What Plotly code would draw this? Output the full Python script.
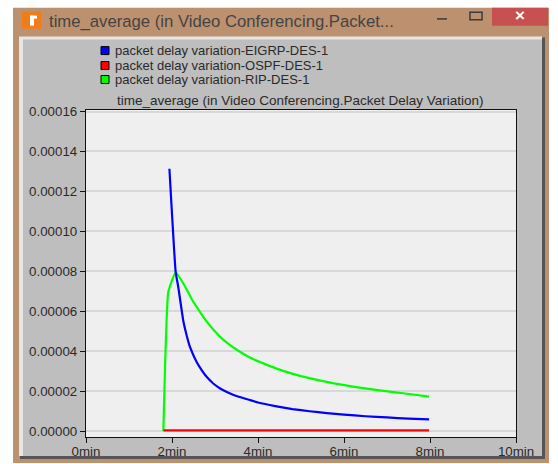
import plotly.graph_objects as go

WIN_TITLE = "time_average (in Video Conferencing.Packet..."
PLOT_TITLE = "time_average (in Video Conferencing.Packet Delay Variation)"
eigrp_t = [1.94, 2.085, 2.147, 2.26, 2.34, 2.42, 2.57, 2.69, 2.81, 2.96, 3.12, 3.3, 3.5, 3.81, 4.0, 4.4, 4.8, 5.2, 5.6, 6.0, 6.5, 7.0, 7.5, 7.98]
eigrp_v = [0.0001313, 0.0000796, 0.000072, 0.0000555, 0.000048, 0.000042, 0.0000347, 0.0000305, 0.000027, 0.0000238, 0.0000213, 0.0000193, 0.0000175, 0.0000155, 0.0000143, 0.0000125, 0.000011, 0.0000099, 0.000009, 0.0000082, 0.0000074, 0.0000068, 0.0000062, 0.0000058]
ospf_t = [1.8, 4.0, 7.98]
ospf_v = [0.0000003, 0.0000003, 0.0000003]
rip_t = [1.8, 1.914, 2.085, 2.287, 2.46, 2.65, 2.8, 2.96, 3.15, 3.35, 3.57, 3.81, 4.05, 4.28, 4.6, 5.0, 5.4, 5.8, 6.28, 6.7, 7.15, 7.6, 7.98]
rip_v = [0.0, 0.0000696, 0.0000795, 0.000073, 0.000066, 0.0000597, 0.000055, 0.0000508, 0.0000465, 0.000043, 0.0000398, 0.0000368, 0.0000345, 0.0000325, 0.00003, 0.0000275, 0.0000255, 0.0000237, 0.000022, 0.0000207, 0.0000195, 0.0000183, 0.0000172]
names = ["packet delay variation-EIGRP-DES-1", "packet delay variation-OSPF-DES-1", "packet delay variation-RIP-DES-1"]
colors = ["#0000ff", "#ff0000", "#00ff00"]
y_ticks = [0, 0.00002, 0.00004, 0.00006, 0.00008, 0.0001, 0.00012, 0.00014, 0.00016]
x_ticks = [0, 2, 4, 6, 8, 10]
x_labels = ["0min", "2min", "4min", "6min", "8min", "10min"]

W, H = 558, 464
PX0, PX1, PY0, PY1 = 86, 516, 109.5, 437
FONT = "Liberation Sans"
TXT = "#2a2a2a"

fig = go.Figure()
for n, t, v, c in [(names[2], rip_t, rip_v, colors[2]), (names[0], eigrp_t, eigrp_v, colors[0]), (names[1], ospf_t, ospf_v, colors[1])]:
    fig.add_trace(go.Scatter(x=t, y=v, name=n, mode="lines",
                             line=dict(color=c, width=2.2, shape="spline", smoothing=0.35),
                             showlegend=False, hoverinfo="skip"))

def fx(px):
    return (px - PX0) / (PX1 - PX0)

def fy(py):
    return (PY1 - py) / (PY1 - PY0)

def rect(x0, y0, x1, y1, fill, line=None, lw=0, kind="rect"):
    fig.add_shape(type=kind, xref="paper", yref="paper", layer="below",
                  x0=fx(x0), x1=fx(x1), y0=fy(y0), y1=fy(y1),
                  fillcolor=fill, line=dict(color=line or fill, width=lw))

def note(px, py, text, size, color=TXT, anchor="left"):
    fig.add_annotation(xref="paper", yref="paper", showarrow=False, xanchor=anchor, yanchor="middle",
                       x=fx(px), y=fy(py), text=text, borderpad=0, xshift=0,
                       font=dict(family=FONT, size=size, color=color))

rect(13, 7, 549, 463, "#bc9170")
rect(20, 37, 545, 459, "#555555")
rect(19, 36, 542, 456, "#e6e6e6")
rect(23, 39, 542, 456, "#bebebe")
rect(PX0, PY0, PX1, PY1, "#efefef")
rect(492, 7, 548, 25, "#c75050")
rect(22, 11, 41, 28, "#f07d1a")
rect(30, 15, 34, 25, "#ffffff")
rect(30, 15, 37, 18, "#ffffff")
rect(437, 17.5, 447, 19, "#3a3a3a")
rect(470, 11.5, 482, 19, "rgba(0,0,0,0)", "#3a3a3a", 1.5)
note(520, 15, "<b>×</b>", 17, "#ffffff", "center")
note(48, 20.5, WIN_TITLE, 16.7, "#444444")
note(300, 100, PLOT_TITLE, 13.5, TXT, "center")

for n, c, cy in zip(names, colors, [50, 65, 79]):
    rect(101, cy - 4, 109, cy + 4, c, "#000000", 1)
    note(114, cy, n, 13, TXT)

axis = dict(showline=True, mirror=True, linecolor="#111", linewidth=1.3, ticks="outside", ticklen=5,
            tickcolor="#111", zeroline=False, automargin=False, tickfont=dict(family=FONT, size=13.3, color=TXT))
fig.update_layout(
    width=W, height=H, autosize=False, paper_bgcolor="#ffffff", plot_bgcolor="rgba(0,0,0,0)",
    margin=dict(l=PX0, r=W - PX1, t=PY0, b=H - PY1, pad=0, autoexpand=False),
    font=dict(family=FONT, size=13, color=TXT),
    showlegend=False,
    xaxis=dict(axis, range=[0, 10], tickvals=x_ticks, ticktext=x_labels, showgrid=False, ticklabelstandoff=-3),
    yaxis=dict(axis, range=[-0.000003, 0.00016075], tickvals=y_ticks, tickformat=".5f",
               showgrid=True, gridcolor="#d8d8d8", gridwidth=1.5),
)
fig.write_html("out.html", config={"displayModeBar": False},
               post_script="document.body.style.margin='0';document.body.style.overflow='hidden';")
